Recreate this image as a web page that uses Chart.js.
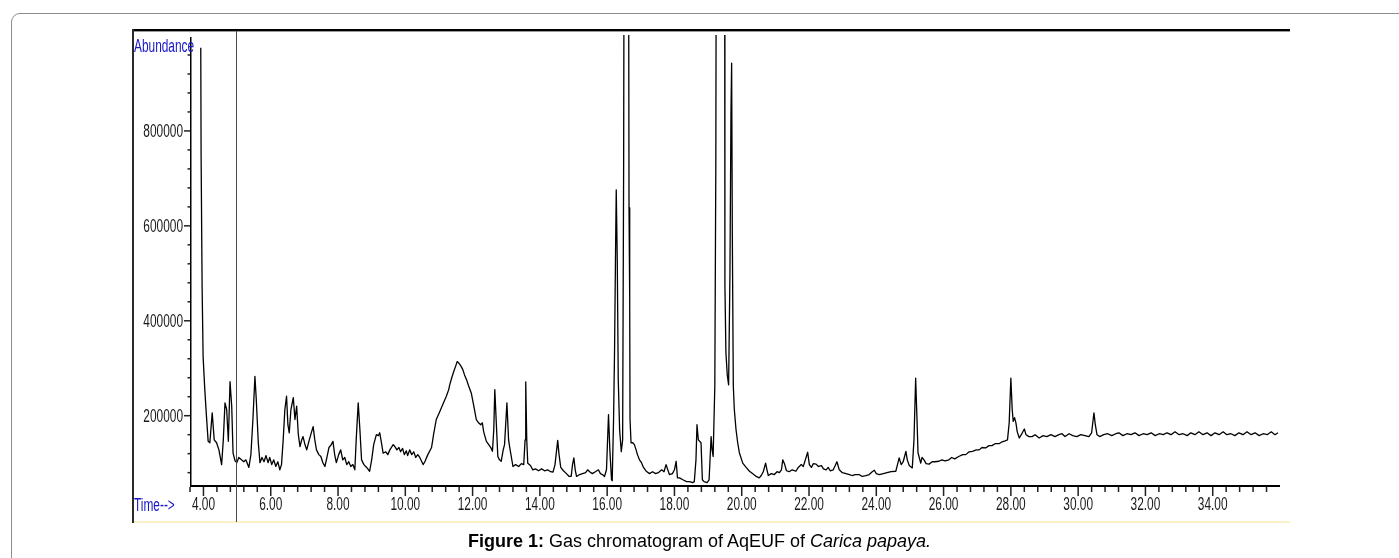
<!DOCTYPE html>
<html lang="en">
<head>
<meta charset="UTF-8">
<title>Gas chromatogram - AqEUF of Carica papaya</title>
<script src="https://cdn.jsdelivr.net/npm/chart.js"></script>
<style>
body{ margin:0; background:#fff; width:1399px; height:558px; overflow:hidden; position:relative; }
#box{ position:absolute; left:11px; top:13px; width:1440px; height:600px; border:1px solid #8c8c8c; border-radius:9px; }
#gc{ position:absolute; left:0; top:0; }
#caption{ position:absolute; left:0; top:531px; width:1399px; text-align:center; font:18px "Liberation Sans", Arial, sans-serif; color:#000; line-height:20px; }
</style>
</head>
<body>

<div id="box"></div>
<canvas id="gc" width="1399" height="558"></canvas>
<div id="caption"><b>Figure 1:</b> Gas chromatogram of AqEUF of <i>Carica papaya.</i></div>

<script>
// retention time (min) and abundance
const rtMinutes = [
3.92,3.93,3.96,3.99,4.04,4.09,4.14,4.19,4.26,4.32,4.39,4.46,4.54,4.59,4.64,4.69,4.74,4.79,4.84,4.88,4.94,4.99,
5.05,5.13,5.20,5.26,5.35,5.41,5.47,5.53,5.57,5.63,5.68,5.74,5.80,5.86,5.92,5.97,
6.03,6.09,6.15,6.21,6.27,6.32,6.37,6.42,6.47,6.51,6.55,6.60,6.67,6.72,6.77,6.82,6.87,6.92,6.96,
7.01,7.07,7.13,7.19,7.26,7.31,7.36,7.43,7.49,7.55,7.61,7.67,7.73,7.79,7.85,7.90,7.95,
8.02,8.08,8.14,8.20,8.26,8.32,8.38,8.44,8.50,8.54,8.60,8.65,8.70,8.77,8.85,8.94,
9.00,9.06,9.14,9.20,9.24,9.30,9.34,9.42,9.48,9.54,9.64,9.69,9.75,9.81,9.86,9.92,9.97,
10.03,10.07,10.13,10.19,10.25,10.31,10.37,10.43,10.53,10.58,10.67,10.78,10.84,10.92,
11.02,11.11,11.22,11.29,11.32,11.38,11.44,11.50,11.54,11.59,11.65,11.71,11.76,11.82,11.88,11.96,
12.03,12.11,12.18,12.24,12.29,12.33,12.41,12.48,12.54,12.59,12.63,12.66,12.70,12.75,12.80,12.85,12.91,12.95,
13.02,13.07,13.10,13.20,13.28,13.37,13.45,13.52,13.56,13.58,13.61,13.64,13.72,13.79,13.87,13.96,
14.05,14.14,14.23,14.32,14.39,14.45,14.53,14.57,14.62,14.70,14.79,14.87,14.93,14.97,
15.01,15.05,15.09,15.18,15.27,15.36,15.42,15.48,15.56,15.65,15.74,15.80,15.86,15.92,15.98,
16.04,16.08,16.13,16.15,16.19,16.22,16.25,16.27,16.30,16.33,16.37,16.42,16.46,16.49,16.51,16.63,16.65,16.67,16.68,16.71,16.76,16.81,16.86,16.90,16.96,
17.02,17.08,17.16,17.26,17.35,17.44,17.52,17.62,17.69,17.75,17.85,17.94,
18.00,18.05,18.09,18.15,18.25,18.36,18.45,18.54,18.59,18.64,18.67,18.71,18.79,18.83,18.88,18.97,
19.03,19.09,19.12,19.15,19.20,19.23,19.25,19.49,19.50,19.53,19.57,19.61,19.65,19.68,19.70,19.72,19.75,19.78,19.83,19.88,19.93,
20.03,20.13,20.23,20.32,20.43,20.52,20.58,20.64,20.71,20.75,20.79,20.88,20.97,
21.05,21.12,21.18,21.22,21.27,21.33,21.41,21.50,21.61,21.68,21.77,21.83,21.89,21.96,
22.01,22.07,22.13,22.21,22.28,22.37,22.43,22.51,22.57,22.63,22.72,22.78,22.83,22.90,22.99,
23.10,23.20,23.28,23.37,23.49,23.58,23.69,23.79,23.88,23.94,
24.00,24.09,24.21,24.32,24.44,24.58,24.63,24.68,24.74,24.80,24.88,24.92,24.98,
25.07,25.12,25.17,25.21,25.24,25.32,25.36,25.42,25.48,25.57,25.66,25.74,25.86,25.95,
26.04,26.16,26.24,26.33,26.45,26.57,26.66,26.76,26.86,26.97,
27.06,27.14,27.25,27.35,27.44,27.53,27.65,27.74,27.83,27.90,27.95,
28.00,28.04,28.07,28.11,28.15,28.19,28.25,28.31,28.40,28.45,28.54,28.63,28.72,28.84,28.96,
29.07,29.19,29.31,29.43,29.52,29.61,29.73,29.84,29.96,
30.08,30.20,30.32,30.40,30.47,30.51,30.56,30.64,30.76,30.88,
31.00,31.12,31.21,31.33,31.45,31.57,31.69,31.81,31.93,
32.05,32.17,32.29,32.41,32.53,32.64,32.76,32.88,
33.00,33.12,33.24,33.35,33.47,33.59,33.71,33.83,33.95,
34.07,34.19,34.31,34.42,34.54,34.66,34.78,34.90,
35.02,35.14,35.26,35.38,35.50,35.62,35.74,35.85,35.94
];

// peaks at ~16.5 and ~19.3 run off the top of the printout
const abundance = [
975000,750000,472000,324000,255000,198000,146000,143000,206000,149000,143000,128000,97000,149000,227000,213000,146000,272000,220000,121000,105000,101000,
112000,107000,103000,107000,91000,118000,192000,283000,234000,143000,101000,112000,103000,116000,101000,112000,
97000,107000,93000,103000,86000,97000,149000,213000,241000,181000,164000,213000,238000,192000,220000,160000,135000,149000,156000,
141000,128000,145000,160000,177000,149000,128000,118000,114000,101000,93000,112000,133000,138000,146000,118000,101000,
118000,128000,107000,112000,97000,103000,93000,97000,86000,149000,227000,171000,107000,97000,91000,83000,
107000,139000,160000,158000,164000,139000,121000,124000,118000,128000,139000,135000,128000,133000,124000,131000,118000,
126000,116000,128000,118000,124000,112000,118000,112000,97000,103000,118000,133000,160000,192000,
208000,223000,241000,255000,265000,280000,293000,305000,314000,311000,305000,297000,286000,276000,263000,248000,
223000,192000,185000,181000,185000,166000,146000,139000,133000,125000,171000,255000,192000,114000,107000,104000,128000,139000,
227000,149000,135000,93000,97000,93000,99000,97000,149000,271000,149000,100000,95000,86000,88000,84000,
88000,84000,86000,82000,81000,97000,148000,118000,91000,84000,78000,72000,72000,97000,
111000,86000,72000,76000,78000,80000,86000,82000,78000,82000,86000,78000,76000,72000,86000,
202000,128000,65000,63000,192000,339000,549000,676000,530000,276000,171000,124000,149000,733000,1500000,1500000,638000,444000,192000,143000,143000,139000,128000,118000,107000,
101000,91000,83000,78000,82000,78000,80000,86000,82000,97000,76000,78000,
86000,104000,69000,69000,65000,61000,61000,59000,61000,107000,181000,149000,143000,65000,61000,59000,
65000,156000,128000,114000,262000,733000,1500000,1500000,476000,333000,286000,265000,501000,838000,943000,585000,262000,213000,171000,143000,122000,
100000,91000,83000,78000,72000,69000,74000,82000,100000,86000,74000,78000,76000,
82000,80000,86000,107000,99000,84000,82000,86000,83000,91000,97000,93000,107000,123000,
97000,91000,99000,98000,93000,95000,88000,86000,91000,84000,86000,95000,103000,86000,80000,
78000,76000,74000,76000,76000,72000,74000,76000,82000,85000,
78000,76000,78000,80000,82000,83000,97000,111000,97000,103000,125000,107000,95000,
90000,149000,279000,192000,122000,100000,112000,107000,99000,98000,103000,103000,104000,107000,
105000,107000,112000,109000,114000,118000,118000,124000,125000,128000,
128000,133000,132000,137000,137000,141000,141000,145000,147000,149000,185000,
279000,213000,188000,196000,185000,166000,153000,160000,172000,160000,156000,156000,160000,153000,158000,
156000,160000,156000,160000,162000,156000,162000,158000,156000,
160000,158000,156000,164000,206000,181000,160000,156000,160000,162000,
158000,162000,164000,158000,162000,160000,164000,158000,162000,
160000,164000,158000,162000,160000,164000,160000,166000,
160000,162000,158000,164000,160000,166000,160000,164000,158000,
164000,160000,166000,160000,162000,158000,164000,160000,
166000,160000,164000,158000,162000,160000,166000,160000,164000
];

const xTickValues = [4,6,8,10,12,14,16,18,20,22,24,26,28,30,32,34];
const xTickLabels = ["4.00","6.00","8.00","10.00","12.00","14.00","16.00","18.00","20.00","22.00","24.00","26.00","28.00","30.00","32.00","34.00"];
const yTickValues = [200000,400000,600000,800000];
const yTickLabels = ["200000","400000","600000","800000"];

const cursorTime = 4.97;   // the marker line left in the printout
const xMin = 3.6, xMax = 36.0, xMinorStep = 0.4;
const yMin = 54000, yMax = 1000000, yMinorStep = 40000;

const BLUE = "#1414c8";

// the printout uses a squashed bitmap font, so squeeze Liberation Sans
function narrowText(ctx, text, x, y, align, color){
    ctx.save();
    ctx.font = '18px "Liberation Sans", Arial, sans-serif';
    ctx.fillStyle = color;
    ctx.textBaseline = "alphabetic";
    ctx.textAlign = "left";
    const sx = 0.66;
    const w = ctx.measureText(text).width*sx;
    let x0 = x;
    if(align==="right") x0 = x-w;
    else if(align==="center") x0 = x-w/2;
    ctx.translate(x0,y);
    ctx.scale(sx,1);
    ctx.fillText(text,0,0);
    ctx.restore();
}

const printout = {
    id:"printout",
    afterDraw(chart){
        const ctx = chart.ctx;
        const xs = chart.scales.x, ys = chart.scales.y;
        const axisY = Math.round(ys.getPixelForValue(yMin));
        const axisX = Math.round(xs.getPixelForValue(xMin));
        const axisEnd = Math.round(xs.getPixelForValue(xMax));

        ctx.save();
        // window frame of the printout
        ctx.fillStyle = "#000";
        ctx.fillRect(133,29,1157,2);
        ctx.fillStyle = "#9a9a9a";
        ctx.fillRect(133,31,1157,1);
        ctx.fillStyle = "#2a2a2a";
        ctx.fillRect(132,29,2,494);
        ctx.fillStyle = "#fbf0c8";
        ctx.fillRect(134,521,1156,2);

        // axes
        ctx.fillStyle = "#000";
        ctx.fillRect(axisX,37,1.5,axisY-37+1);
        ctx.fillRect(axisX,axisY,axisEnd-axisX,2);

        // x ticks
        ctx.fillStyle = "#222";
        const nx = Math.round((xMax-xMin)/xMinorStep);
        for(let i=0;i<nx;i++){
            const t = xMin+i*xMinorStep;
            const px = xs.getPixelForValue(t);
            const major = Math.abs(t/2-Math.round(t/2))<1e-6;
            ctx.fillRect(px-0.75,axisY+2,1.5,major?9:5);
        }
        xTickValues.forEach((v,i)=>{
            narrowText(ctx,xTickLabels[i],xs.getPixelForValue(v),510,"center","#1a1a1a");
        });

        // y ticks
        for(let v=2*yMinorStep; v<yMax-yMinorStep/2; v+=yMinorStep){
            const py = ys.getPixelForValue(v);
            const major = yTickValues.indexOf(v)>=0;
            if(major) ctx.fillRect(axisX-6,py-0.75,6,1.5);
            else ctx.fillRect(axisX-2.5,py-0.75,2.5,1.5);
        }
        yTickValues.forEach((v,i)=>{
            narrowText(ctx,yTickLabels[i],axisX-7,ys.getPixelForValue(v)+6,"right","#1a1a1a");
        });

        // axis captions
        narrowText(ctx,"Abundance",134,52,"left",BLUE);
        narrowText(ctx,"Time-->",134,511,"left",BLUE);

        // cursor line
        const cx = Math.round(xs.getPixelForValue(cursorTime))+0.5;
        ctx.strokeStyle = "#4a4a4a";
        ctx.lineWidth = 1;
        ctx.beginPath();
        ctx.moveTo(cx,31);
        ctx.lineTo(cx,522);
        ctx.stroke();
        ctx.restore();
    }
};

const points = rtMinutes.map((t,i)=>({x:t, y:abundance[i]}));

new Chart(document.getElementById("gc"),{
    type:"line",
    data:{ datasets:[{
        data:points,
        borderColor:"#000",
        borderWidth:1.3,
        borderJoinStyle:"round",
        pointRadius:0,
        tension:0,
        fill:false,
        clip:{left:0,top:1,right:0,bottom:0}
    }]},
    options:{
        responsive:false,
        devicePixelRatio:1,
        animation:false,
        layout:{ padding:{left:190, right:119, top:36, bottom:73} },
        plugins:{ legend:{display:false}, tooltip:{enabled:false} },
        scales:{
            x:{ type:"linear", min:xMin, max:xMax, display:false },
            y:{ type:"linear", min:yMin, max:yMax, display:false }
        }
    },
    plugins:[printout]
});
</script>

</body>
</html>
